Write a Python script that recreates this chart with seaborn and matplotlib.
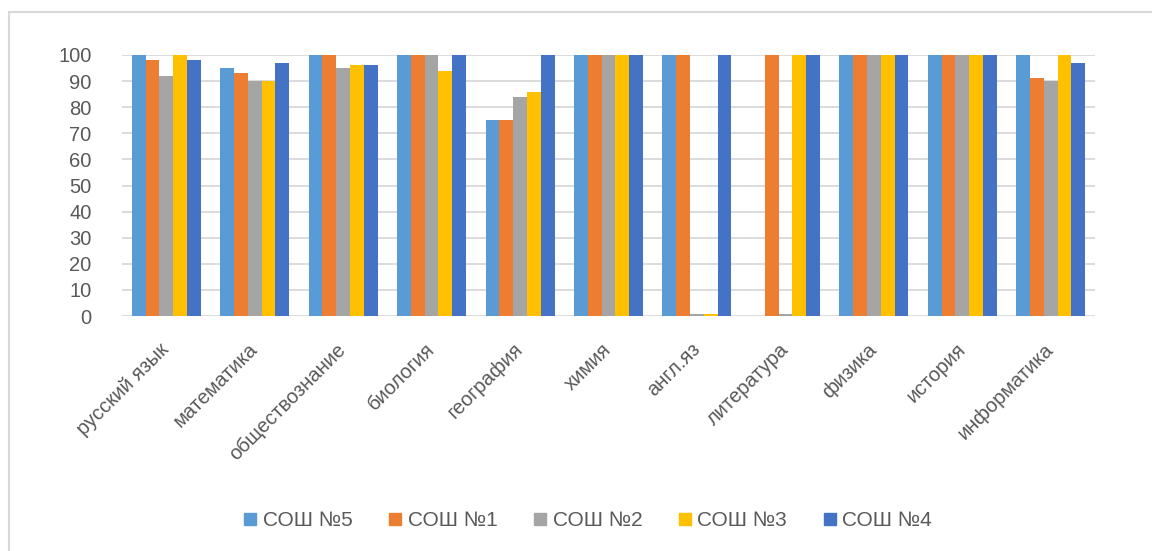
import numpy as np
import pandas as pd
import seaborn as sns
import matplotlib.pyplot as plt
from matplotlib.lines import Line2D

subjects = ['русский язык', 'математика', 'обществознание', 'биология', 'география',
            'химия', 'англ.яз', 'литература', 'физика', 'история', 'информатика']
schools = ['СОШ №5', 'СОШ №1', 'СОШ №2', 'СОШ №3', 'СОШ №4']

sosh5 = [100, 95, 100, 100, 75, 100, 100, np.nan, 100, 100, 100]
sosh1 = [98, 93, 100, 100, 75, 100, 100, 100, 100, 100, 91]
sosh2 = [92, 90, 95, 100, 84, 100, 0, 0, 100, 100, 90]
sosh3 = [100, 90, 96, 94, 86, 100, 0, 100, 100, 100, 100]
sosh4 = [98, 97, 96, 100, 100, 100, 100, 100, 100, 100, 97]

colors = ['#5B9BD5', '#ED7D31', '#A5A5A5', '#FFC000', '#4472C4']

rows = []
for school, vals in zip(schools, [sosh5, sosh1, sosh2, sosh3, sosh4]):
    for subj, v in zip(subjects, vals):
        rows.append({'subject': subj, 'school': school, 'value': v})
df = pd.DataFrame(rows)

sns.set_style('white')
plt.rcParams['font.family'] = ['Liberation Sans', 'DejaVu Sans']

fig = plt.figure(figsize=(11.52, 5.51), dpi=100)
ax = fig.add_axes([122 / 1152, 1 - 316 / 551, (1095 - 122) / 1152, (316 - 55) / 551])

sns.barplot(data=df, x='subject', y='value', hue='school', order=subjects,
            hue_order=schools, palette=colors, width=0.78, gap=0,
            saturation=1, errorbar=None, ax=ax, legend=False, zorder=3,
            linewidth=0)

# zero-valued bars show as a thin flat sliver
for p in ax.patches:
    if p.get_height() == 0:
        p.set_height(0.8)

ax.set_ylim(0, 100)
ax.set_xlim(-0.5, 10.5)
ax.set_yticks(range(0, 101, 10))
ax.yaxis.grid(True, color='#d9d9d9', lw=1.3, zorder=0)
ax.set_axisbelow(True)
for s in ax.spines.values():
    s.set_visible(False)
ax.set_xlabel('')
ax.set_ylabel('')
ax.tick_params(axis='y', length=0, pad=22, labelsize=14.5, labelcolor='#595959')
ax.tick_params(axis='x', length=0, pad=22, labelsize=14.5, labelcolor='#595959')
plt.setp(ax.get_xticklabels(), rotation=45, ha='right', va='center',
         rotation_mode='anchor')

# legend
handles = [Line2D([], [], marker='s', ls='', markersize=9, color=c) for c in colors]
fig.legend(handles, schools, loc='center', bbox_to_anchor=(0.51, 1 - 521 / 551),
           ncol=5, frameon=False, fontsize=15, labelcolor='#595959',
           handlelength=0.7, handletextpad=0.25, columnspacing=1.7)

# chart frame
fig.add_artist(Line2D([9 / 1152, 1], [1 - 12 / 551, 1 - 12 / 551],
                      transform=fig.transFigure, color='#d9d9d9', lw=1.5))
fig.add_artist(Line2D([9 / 1152, 9 / 1152], [0, 1 - 12 / 551],
                      transform=fig.transFigure, color='#d9d9d9', lw=1.5))

fig.savefig('out.png', dpi=100, facecolor='white')
